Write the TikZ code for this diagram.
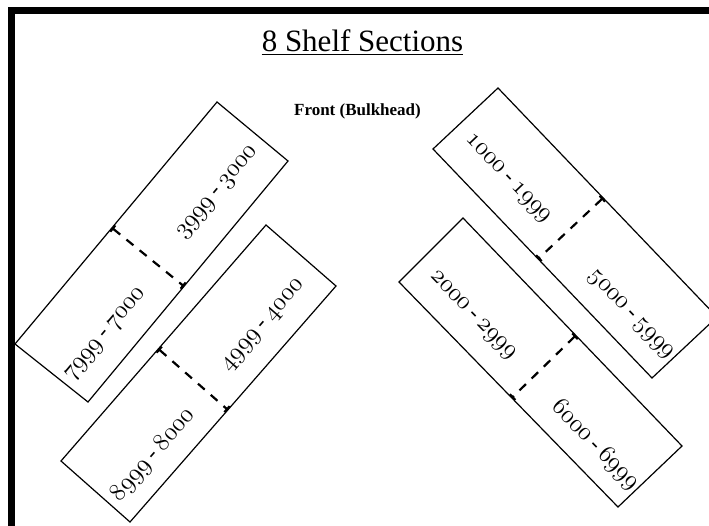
\documentclass[tikz,border=0pt]{standalone}
\usepackage{fontspec}
\setmainfont{Liberation Serif}
\usetikzlibrary{calc,arrows.meta}
\newcommand{\osd}[1]{{\fontencoding{OML}\fontfamily{lmm}\fontseries{m}\fontshape{it}\selectfont #1}}
\newcommand{\rng}[2]{\osd{#1}\hspace{5pt}-\hspace{5pt}\osd{#2}}
\tikzset{
  shelf/.style={draw=black, line width=1.2pt, line join=miter},
  divider/.style={line width=2.2pt, dash pattern=on 9pt off 8pt, {Bar[width=8pt]}-{Bar[width=8pt]}},
  shelflabel/.style={font=\fontsize{23}{27}\selectfont, inner sep=0pt},
  frameline/.style={line width=7pt, line join=miter},
  titletext/.style={font=\fontsize{31}{36}\selectfont, inner sep=0pt, anchor=base},
  fronttext/.style={font=\fontsize{17}{20}\selectfont\bfseries, inner sep=0pt, anchor=base},
}
\begin{document}
\begin{tikzpicture}[x=1pt,y=-1pt]
\useasboundingbox (0,0) rectangle (709,526);
\fill[white] (0,0) rectangle (709,526);
\draw[frameline] (11.5,535) -- (11.5,10.5) -- (720,10.5);

% title
\node[titletext] (title) at (362.5,51.5) {8 Shelf Sections};
\draw[line width=1.8pt] ($(title.base west)+(0,3)$) -- ($(title.base east)+(0,3)$);
\node[fronttext] (front) at (357.5,116) {Front (Bulkhead)};

% left upper shelf
\coordinate (luA) at (15,344);
\coordinate (luB) at (217,102);
\coordinate (luC) at (288,161);
\coordinate (luD) at (88,402);
\draw[shelf] (luA) -- (luB) -- (luC) -- (luD) -- cycle;
\coordinate (luP) at ($(luA)!0.48!(luB)$);
\coordinate (luQ) at ($(luD)!0.48!(luC)$);
\draw[divider] (luP) -- (luQ);
\node[shelflabel, rotate=50] (l3) at (218,193) {\rng{3999}{3000}};
\node[shelflabel, rotate=50] (l7) at (106,335) {\rng{7999}{7000}};

% left lower shelf
\coordinate (llA) at (61,461);
\coordinate (llB) at (266,225);
\coordinate (llC) at (336,286);
\coordinate (llD) at (130,522);
\draw[shelf] (llA) -- (llB) -- (llC) -- (llD) -- cycle;
\coordinate (llP) at ($(llA)!0.475!(llB)$);
\coordinate (llQ) at ($(llD)!0.475!(llC)$);
\draw[divider] (llP) -- (llQ);
\node[shelflabel, rotate=49] (l4) at (264,326) {\rng{4999}{4000}};
\node[shelflabel, rotate=49] (l8) at (153,455) {\rng{8999}{8000}};

% right upper shelf
\coordinate (ruT) at (498,88);
\coordinate (ruL) at (433,149);
\coordinate (ruB) at (652,378);
\coordinate (ruR) at (717,317);
\draw[shelf] (ruT) -- (ruR) -- (ruB) -- (ruL) -- cycle;
\coordinate (ruP) at ($(ruT)!0.48!(ruR)$);
\coordinate (ruQ) at ($(ruL)!0.48!(ruB)$);
\draw[divider] (ruP) -- (ruQ);
\node[shelflabel, rotate=-46.3] (l1) at (507,179) {\rng{1000}{1999}};
\node[shelflabel, rotate=-46.3] (l5) at (630,315) {\rng{5000}{5999}};

% right lower shelf
\coordinate (rlT) at (463,218);
\coordinate (rlL) at (399,282);
\coordinate (rlB) at (618,507);
\coordinate (rlR) at (682,446);
\draw[shelf] (rlT) -- (rlR) -- (rlB) -- (rlL) -- cycle;
\coordinate (rlP) at ($(rlT)!0.515!(rlR)$);
\coordinate (rlQ) at ($(rlL)!0.515!(rlB)$);
\draw[divider] (rlP) -- (rlQ);
\node[shelflabel, rotate=-45.8] (l2) at (472,316) {\rng{2000}{2999}};
\node[shelflabel, rotate=-45.8] (l6) at (595,445) {\rng{6000}{6999}};
\end{tikzpicture}
\end{document}
